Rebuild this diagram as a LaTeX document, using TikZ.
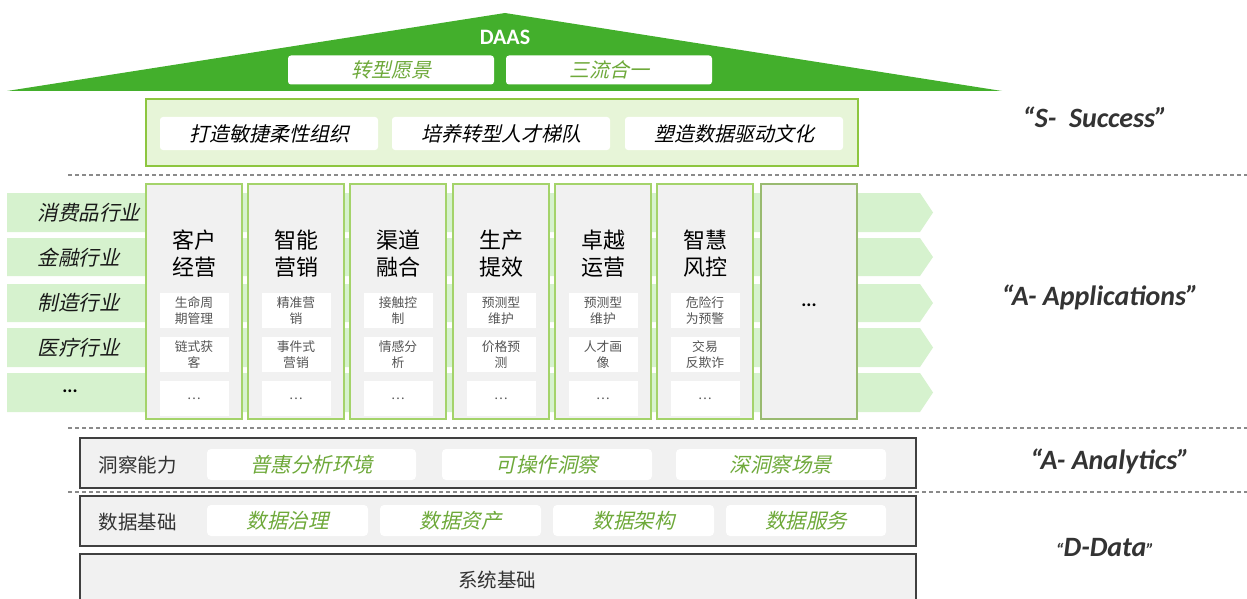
\documentclass[tikz,border=0pt]{standalone}
\usepackage{fontspec}
\setmainfont{Noto Sans CJK SC}
\newfontfamily\cjkit[FakeSlant=0.22]{Noto Sans CJK SC}
\newfontfamily\lat{Carlito}
\definecolor{roofgreen}{HTML}{43AF2C}
\definecolor{txtgreen}{HTML}{6EA93A}
\definecolor{succfill}{HTML}{E7F5D8}
\definecolor{succline}{HTML}{8DC63F}
\definecolor{bandfill}{HTML}{D6F2CE}
\definecolor{colfill}{HTML}{F1F1F1}
\definecolor{colline}{HTML}{A4D36A}
\definecolor{darkline}{HTML}{404040}
\definecolor{dashgray}{HTML}{8A8A8A}
\definecolor{subtxt}{HTML}{555555}
\definecolor{labtxt}{HTML}{333333}
\tikzset{
  roofbox/.style={fill=white, rounded corners=3, minimum width=206, minimum height=29, inner sep=0,
    font=\cjkit\fontsize{20}{22}\selectfont, text=txtgreen},
  succbox/.style={fill=white, rounded corners=3, minimum width=218, minimum height=33, inner sep=0,
    font=\cjkit\fontsize{20}{22}\selectfont, text=black},
  colbox/.style={fill=colfill, draw=colline, line width=2, minimum width=96, minimum height=235, inner sep=0},
  coltitle/.style={font=\fontsize{22}{27}\selectfont, align=center, text=black},
  subbox/.style={fill=white, minimum width=69, minimum height=35, inner sep=0, align=center,
    font=\fontsize{12.8}{16}\selectfont, text=subtxt},
  indlab/.style={anchor=west, font=\cjkit\fontsize{20.5}{22}\selectfont, text=black!90},
  layerbox/.style={fill=colfill, draw=darkline, line width=1.6, minimum width=836, inner sep=0},
  layerlab/.style={anchor=west, font=\fontsize{19.5}{22}\selectfont, text=labtxt},
  graybox/.style={fill=white, rounded corners=4, minimum height=31, inner sep=0,
    font=\cjkit\fontsize{20.5}{22}\selectfont, text=txtgreen},
  sidelab/.style={font=\lat\bfseries\itshape\fontsize{28}{32}\selectfont, text=labtxt},
  sep/.style={draw=dashgray, line width=1.2, dash pattern=on 4pt off 3pt}
}
\begin{document}
\begin{tikzpicture}[x=1pt,y=-1pt]
\useasboundingbox (0,0) rectangle (1247,599);

% roof
\fill[roofgreen] (7,91) -- (505,13) -- (1002,91) -- cycle;
\node[font=\lat\bfseries\fontsize{22}{24}\selectfont, text=white] (daas) at (505,37) {DAAS};
\node[roofbox] (vision) at (391,70) {转型愿景};
\node[roofbox] (three) at (609,70) {三流合一};

% success layer
\node[fill=succfill, draw=succline, line width=2, minimum width=712, minimum height=67, inner sep=0] (succ) at (502,132.5) {};
\node[succbox] (s1) at (269,133.5) {打造敏捷柔性组织};
\node[succbox] (s2) at (501,133.5) {培养转型人才梯队};
\node[succbox] (s3) at (734,133.5) {塑造数据驱动文化};
\node[sidelab] (lS) at (1095,117) {“S-\ \ Success”};

\coordinate (d1a) at (68,175); \coordinate (d1b) at (1247,175);
\draw[sep] (d1a) -- (d1b);

% industry bands
\foreach \ya/\yb in {193/232, 238/276, 284/322, 328/367, 373/412}{
  \fill[bandfill] (7,\ya) -- (920,\ya) -- (933,{(\ya+\yb)/2}) -- (920,\yb) -- (7,\yb) -- cycle;
}
\node[indlab] (i1) at (34,213) {消费品行业};
\node[indlab] (i2) at (34,257.5) {金融行业};
\node[indlab] (i3) at (34,303) {制造行业};
\node[indlab] (i4) at (34,347.5) {医疗行业};
\node[font=\lat\bfseries\fontsize{19}{20}\selectfont] (i5) at (70,391) {...};

% columns
\foreach \i/\x/\ta/\tb/\sa/\sb in {
  1/194/客户/经营/生命周\\期管理/链式获\\客,
  2/296/智能/营销/精准营\\销/事件式\\营销,
  3/398/渠道/融合/接触控\\制/情感分\\析,
  4/501/生产/提效/预测型\\维护/价格预\\测,
  5/603/卓越/运营/预测型\\维护/人才画\\像,
  6/705/智慧/风控/危险行\\为预警/交易\\反欺诈}{
  \node[colbox] (c\i) at (\x,301.5) {};
  \node[coltitle] (t\i) at (\x,254) {\ta\\\tb};
  \node[subbox] (a\i) at (\x,310.5) {\sa};
  \node[subbox] (b\i) at (\x,354.5) {\sb};
  \node[subbox] (e\i) at (\x,398.5) {…};
}
\node[colbox, draw=colline!70!gray] (c7) at (809,301.5) {};
\node[font=\lat\bfseries\fontsize{19}{20}\selectfont] (t7) at (809,305) {...};
\node[sidelab] (lA) at (1100,297) {“A- Applications”};

\coordinate (d2a) at (68,428); \coordinate (d2b) at (1247,428);
\draw[sep] (d2a) -- (d2b);

% analytics layer
\node[layerbox, minimum height=50] (ana) at (498,463) {};
\node[layerlab] (anal) at (95,465) {洞察能力};
\node[graybox, minimum width=209] (g1) at (311.5,464.5) {普惠分析环境};
\node[graybox, minimum width=210] (g2) at (547,464.5) {可操作洞察};
\node[graybox, minimum width=210] (g3) at (781,464.5) {深洞察场景};
\node[sidelab] (lAn) at (1110,461) {“A- Analytics”};

\coordinate (d3a) at (68,492); \coordinate (d3b) at (1247,492);
\draw[sep] (d3a) -- (d3b);

% data layer
\node[layerbox, minimum height=50] (dat) at (498,521) {};
\node[layerlab] (datl) at (95,522) {数据基础};
\node[graybox, minimum width=161] (h1) at (287.5,520.5) {数据治理};
\node[graybox, minimum width=161] (h2) at (460.5,520.5) {数据资产};
\node[graybox, minimum width=161] (h3) at (633.5,520.5) {数据架构};
\node[graybox, minimum width=160] (h4) at (806,520.5) {数据服务};
\node[sidelab] (lD) at (1105,548) {{\fontsize{18}{20}\selectfont “}D-Data{\fontsize{18}{20}\selectfont ”}};

% system layer
\node[layerbox, minimum height=60, anchor=north] (sys) at (498,553) {};
\node[font=\fontsize{19.5}{22}\selectfont, text=labtxt] (sysl) at (497,580) {系统基础};
\end{tikzpicture}
\end{document}
